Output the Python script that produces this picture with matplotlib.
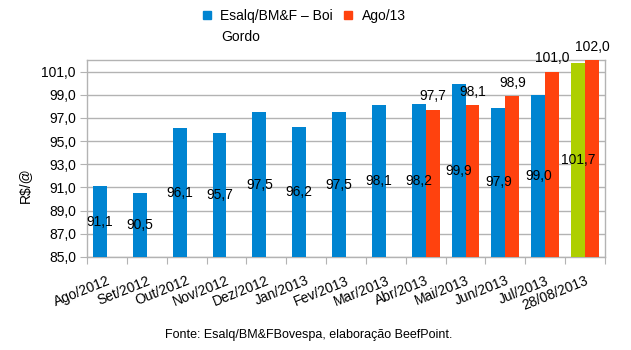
import matplotlib
matplotlib.use("Agg")
import matplotlib.pyplot as plt
from matplotlib.lines import Line2D
import numpy as np

plt.rcParams['font.family'] = ['Liberation Sans', 'DejaVu Sans']

categories = ["Ago/2012", "Set/2012", "Out/2012", "Nov/2012", "Dez/2012", "Jan/2013",
              "Fev/2013", "Mar/2013", "Abr/2013", "Mai/2013", "Jun/2013", "Jul/2013",
              "28/08/2013"]
esalq = [91.1, 90.5, 96.1, 95.7, 97.5, 96.2, 97.5, 98.1, 98.2, 99.9, 97.9, 99.0, 101.7]
ago13 = [None, None, None, None, None, None, None, None, 97.7, 98.1, 98.9, 101.0, 102.0]
yticks = [85, 87, 89, 91, 93, 95, 97, 99, 101]

BLUE = "#0084D1"
ORANGE = "#FF420E"
GREEN = "#AECF00"
GRID = "#b3b3b3"

W, H = 631, 350
fig = plt.figure(figsize=(W / 100, H / 100), dpi=100)
ax = fig.add_axes([87 / W, 1 - 257 / H, (605 - 87) / W, (257 - 60) / H])

n = len(categories)
x = np.arange(n) + 0.5
bw = 0.35
blue_colors = [BLUE] * (n - 1) + [GREEN]
base = 85.0

ax.bar(x - bw / 2, [v - base for v in esalq], bw, bottom=base, color=blue_colors, zorder=3)
ox = [xi + bw / 2 for xi, v in zip(x, ago13) if v is not None]
ov = [v for v in ago13 if v is not None]
ax.bar(ox, [v - base for v in ov], bw, bottom=base, color=ORANGE, zorder=3)

fs = 10
for xi, v in zip(x, esalq):
    ax.text(xi - bw / 2, (v + base) / 2, f"{v:.1f}".replace(".", ","), ha="center",
            va="center", fontsize=fs, zorder=5)
for xi, v in zip(ox, ov):
    ax.text(xi, v + 0.55, f"{v:.1f}".replace(".", ","), ha="center", va="bottom",
            fontsize=fs, zorder=5)

ax.set_xlim(0, n)
ax.set_ylim(85, 102)
ax.set_yticks(yticks)
ax.set_yticklabels([f"{t:.1f}".replace(".", ",") for t in yticks], fontsize=fs)
ax.yaxis.grid(True, color=GRID, linewidth=1, zorder=0)
ax.set_axisbelow(True)

ax.set_xticks(np.arange(n + 1))
ax.set_xticklabels([])
ax.set_xticks(x, minor=True)
ax.set_xticklabels(categories, minor=True, rotation=22, ha="right", va="top",
                   rotation_mode="anchor", fontsize=fs)
ax.tick_params(axis="x", which="major", length=5, color=GRID, direction="out")
ax.tick_params(axis="x", which="minor", length=0, pad=12)
ax.tick_params(axis="y", length=5, color=GRID, pad=3)
for s in ax.spines.values():
    s.set_color(GRID)
    s.set_linewidth(1)

fig.text(25 / W, 1 - 185 / H, "R$/@", rotation=90, ha="center", va="center", fontsize=fs)

handles = [Line2D([], [], marker="s", linestyle="none", markersize=5.5, color=BLUE),
           Line2D([], [], marker="s", linestyle="none", markersize=5.5, color=ORANGE)]
fig.legend(handles, ["Esalq/BM&F – Boi", "Ago/13"], loc="upper left",
           bbox_to_anchor=(201 / W, 1 - 9 / H), ncol=2, frameon=False, fontsize=fs,
           handlelength=0.8, handletextpad=0.6, columnspacing=0.7, borderpad=0,
           borderaxespad=0)
fig.text(221 / W, 1 - 37 / H, "Gordo", ha="left", va="center", fontsize=fs)

fig.text(309 / W, 1 - 335 / H, "Fonte: Esalq/BM&FBovespa, elaboração BeefPoint.",
         ha="center", va="center", fontsize=9)

fig.savefig("out.png", dpi=100)
